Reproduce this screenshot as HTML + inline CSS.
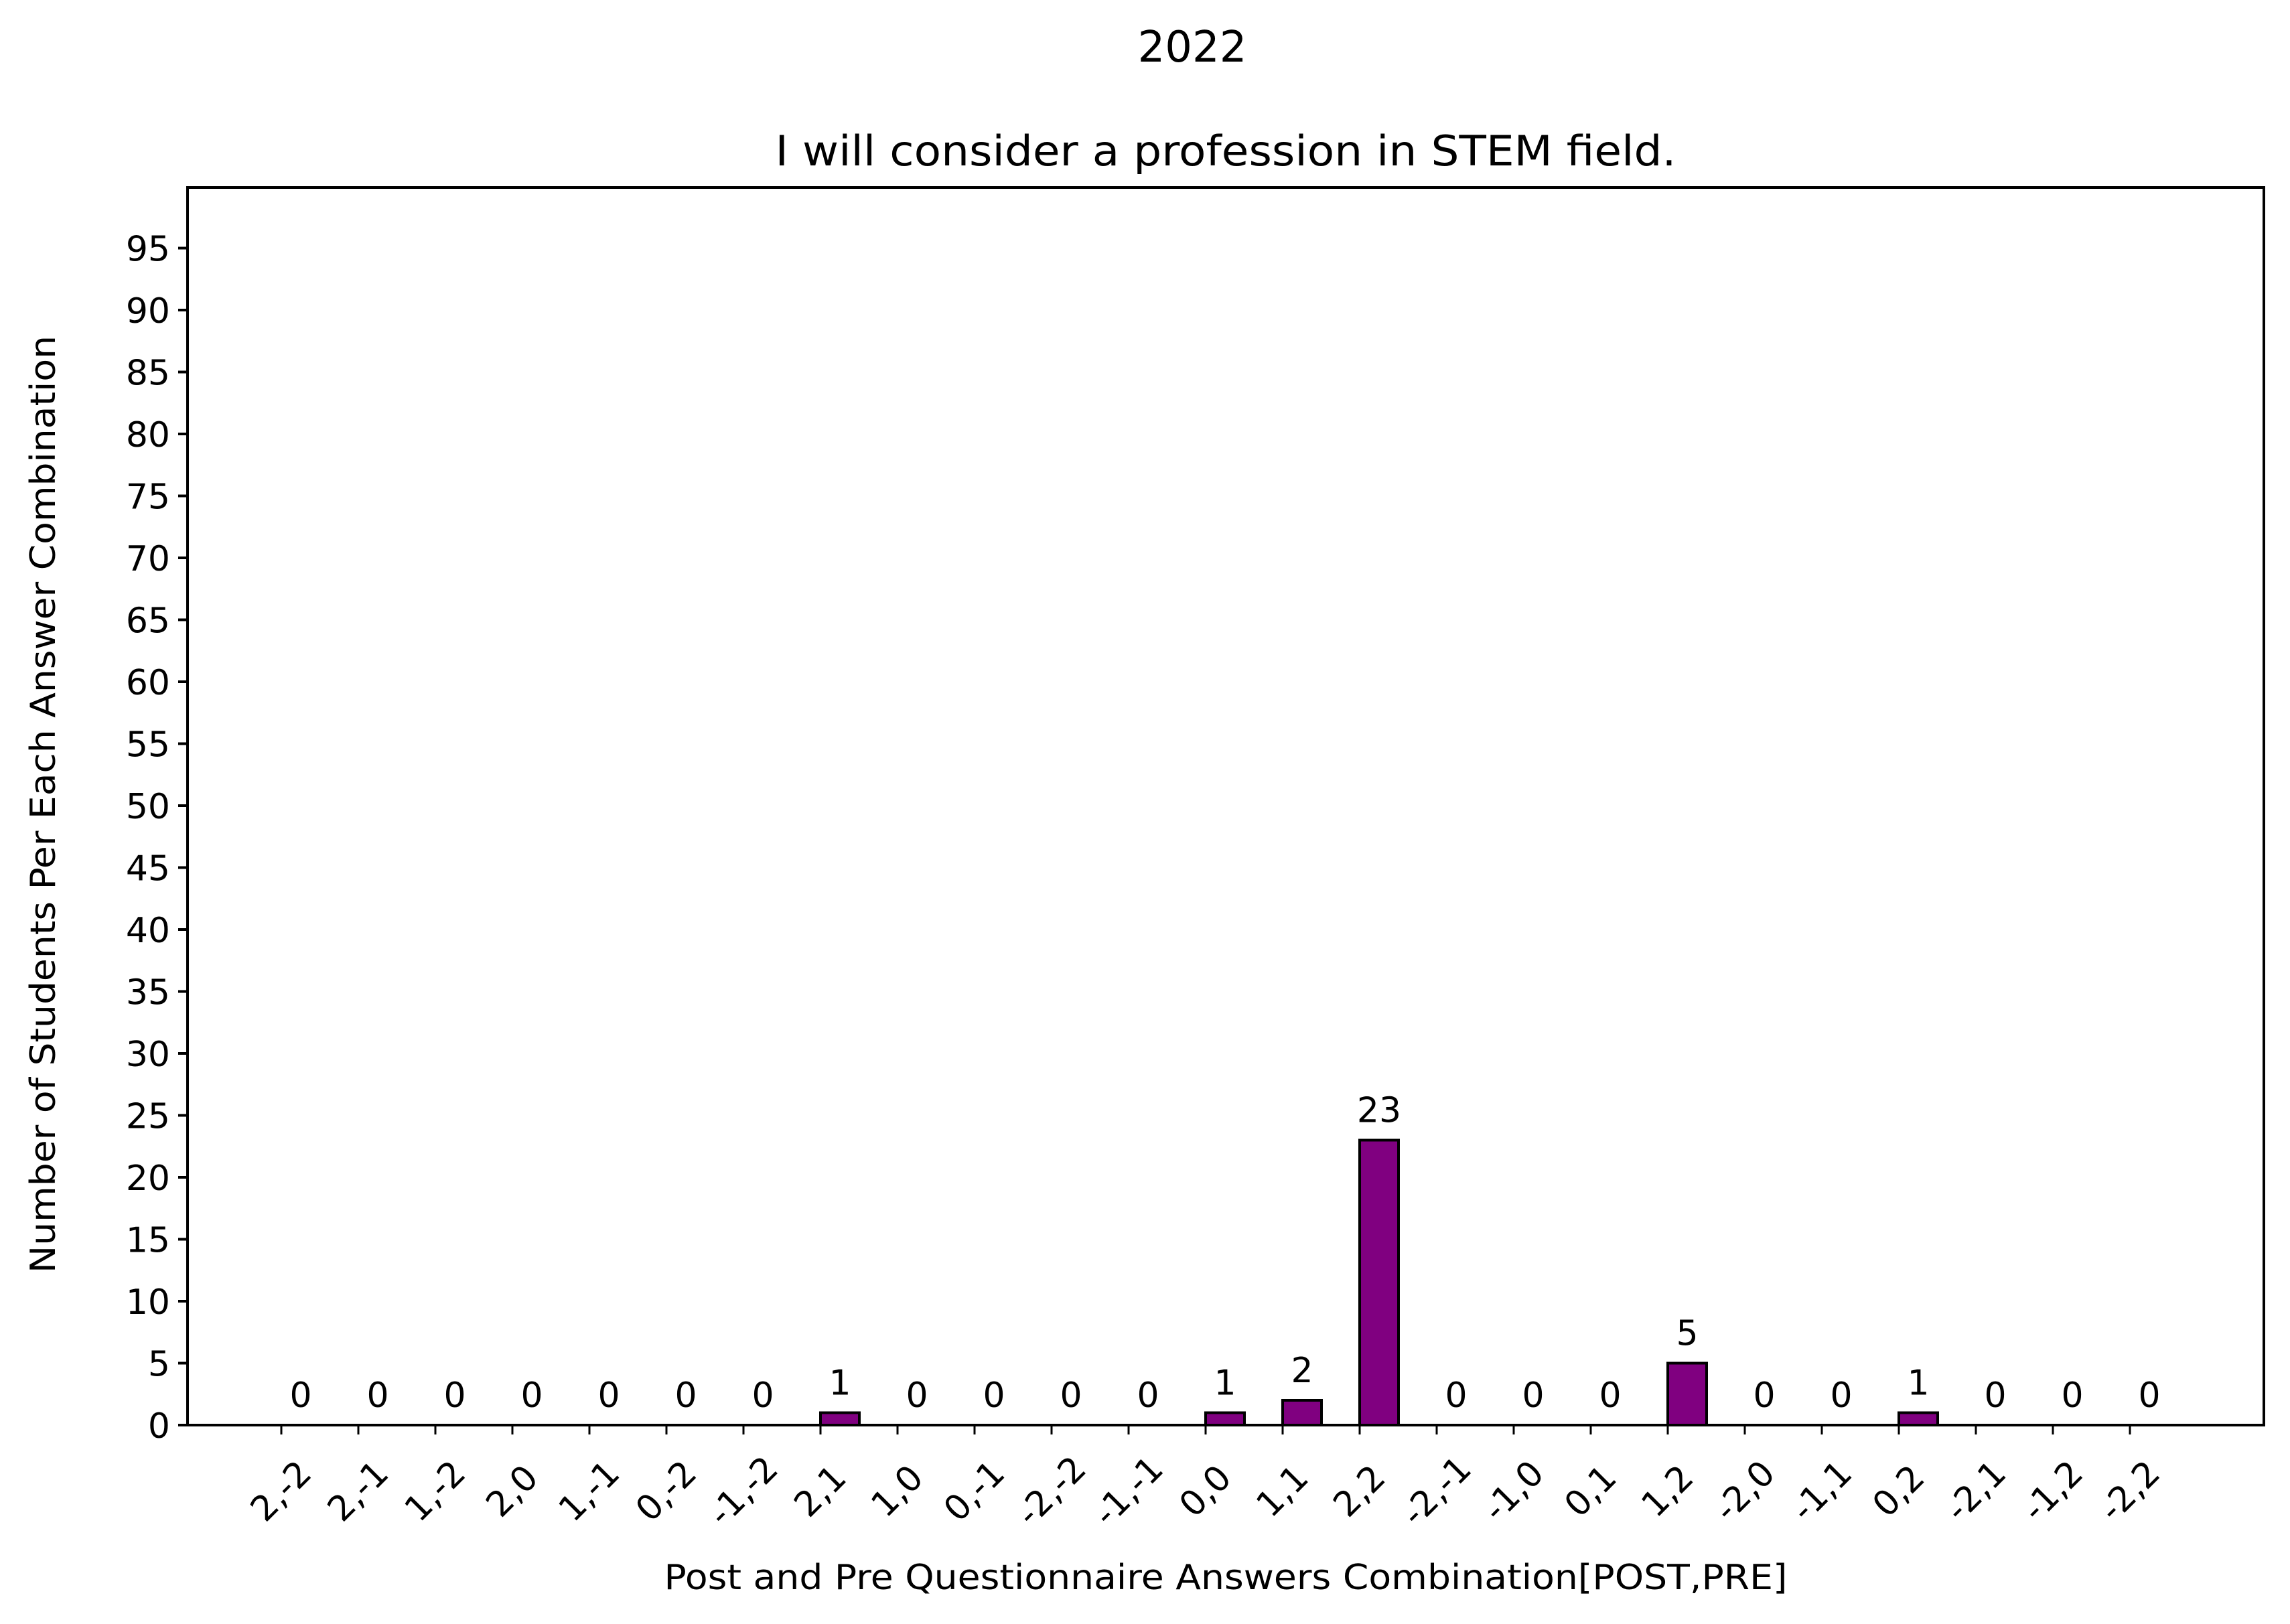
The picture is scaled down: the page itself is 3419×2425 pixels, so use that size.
<!DOCTYPE html>
<html><head><meta charset="utf-8"><style>
html,body{margin:0;padding:0;background:#fff;}
svg{display:block;font-family:"DejaVu Sans","Liberation Sans",sans-serif;}
</style></head><body>
<svg id="chart" width="3419" height="2425" viewBox="0 0 3419 2425" xmlns="http://www.w3.org/2000/svg">
<rect width="3419" height="2425" fill="#fff"/>
<text x="1780" y="92" font-size="64" text-anchor="middle">2022</text>
<text x="1830" y="247" font-size="62" text-anchor="middle" textLength="1345" lengthAdjust="spacingAndGlyphs">I will consider a profession in STEM field.</text>
<text x="1830" y="2373" font-size="52" text-anchor="middle" textLength="1677" lengthAdjust="spacingAndGlyphs">Post and Pre Questionnaire Answers Combination[POST,PRE]</text>
<text transform="translate(82,1201) rotate(-90)" font-size="52" text-anchor="middle" textLength="1400" lengthAdjust="spacingAndGlyphs">Number of Students Per Each Answer Combination</text>
<g id="marks"></g>
<rect x="280" y="280" width="3100" height="1848" fill="none" stroke="#000" stroke-width="4"/>
</svg>
<script>
const categories = ["2,-2","2,-1","1,-2","2,0","1,-1","0,-2","-1,-2","2,1","1,0","0,-1","-2,-2","-1,-1","0,0","1,1","2,2","-2,-1","-1,0","0,1","1,2","-2,0","-1,1","0,2","-2,1","-1,2","-2,2"];
const counts = [0,0,0,0,0,0,0,1,0,0,0,0,1,2,23,0,0,0,5,0,0,1,0,0,0];
const yTicks = [0,5,10,15,20,25,30,35,40,45,50,55,60,65,70,75,80,85,90,95];

const NS = "http://www.w3.org/2000/svg";
const g = document.getElementById("marks");
const X0 = 420, DX = 115, Y0 = 2128, DY = 18.5, BW = 58;
function xScale(i){ return X0 + i*DX; }
function yScale(v){ return Y0 - v*DY; }
function mk(tag, attrs){ const e=document.createElementNS(NS,tag); for(const k in attrs) e.setAttribute(k,attrs[k]); g.appendChild(e); return e; }

yTicks.forEach(t=>{
  const y=yScale(t);
  const tk=mk("line",{x1:266,x2:280,y1:y,y2:y,stroke:"#000","stroke-width":4});
  
  
  const lb=mk("text",{x:254,y:y+19,"font-size":52,"text-anchor":"end"});
  lb.textContent=t;
  
  
});

categories.forEach((c,i)=>{
  const x=xScale(i);
  const tk=mk("line",{x1:x,x2:x,y1:Y0,y2:Y0+14,stroke:"#000","stroke-width":3});
  
  
  const lb=mk("text",{x:0,y:0,"font-size":52,"text-anchor":"middle","dominant-baseline":"central",transform:`translate(${x},2227) rotate(-45)`});
  lb.textContent=c;
  
  
  const v=counts[i];
  const yt=yScale(v);
  const bar=mk("rect",{x:x,y:yt,width:BW,height:Y0-yt,fill:"#800080",stroke:"#000","stroke-width":4});
  
  
  const vl=mk("text",{x:x+BW/2,y:yt-27,"font-size":52,"text-anchor":"middle"});
  vl.textContent=v;
  
  
});
</script>
</body></html>
